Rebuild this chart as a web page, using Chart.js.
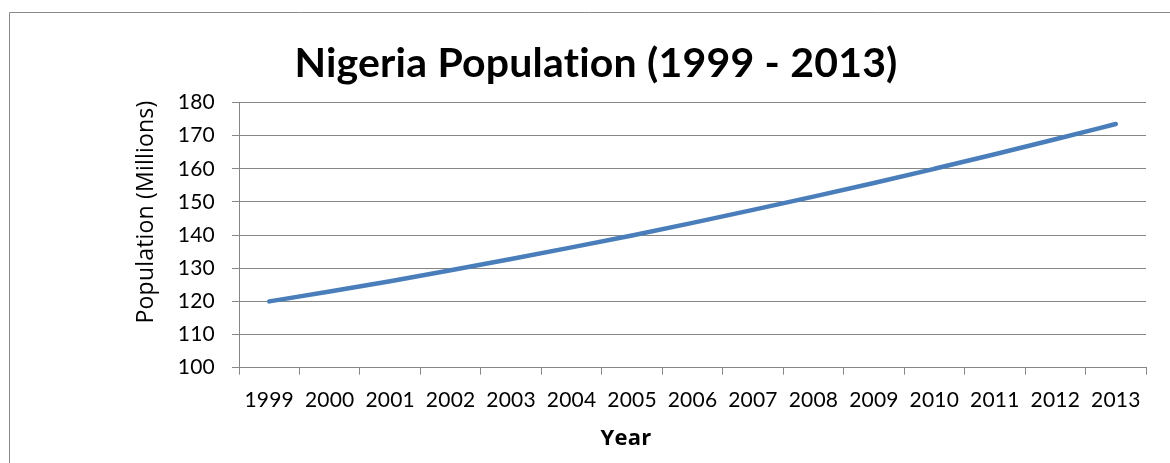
<!DOCTYPE html>
<html>
<head>
<meta charset="utf-8">
<script src="https://cdn.jsdelivr.net/npm/chart.js@4"></script>
<style>
  html, body { margin: 0; padding: 0; background: #ffffff; }
  canvas { display: block; }
</style>
</head>
<body>
<canvas id="c" width="1170" height="463"></canvas>
<script>
// ---- data ----
const years = ['1999','2000','2001','2002','2003','2004','2005','2006','2007','2008','2009','2010','2011','2012','2013'];
const population = [120.0, 123.0, 126.1, 129.4, 132.8, 136.3, 139.9, 143.7, 147.6, 151.6, 155.7, 160.0, 164.4, 168.9, 173.5];
const yMin = 100;
const yMax = 180;
const yStep = 10;
const chartTitle = 'Nigeria Population (1999 - 2013)';
const xAxisTitle = 'Year';
const yAxisTitle = 'Population (Millions)';

const FONT = 'Lato, "Open Sans", sans-serif';
const FONT2 = '"Open Sans", Lato, sans-serif';
const GRID = '#868686';

const frameAndTitles = {
  id: 'frameAndTitles',
  beforeDraw(chart) {
    // small spacing keeps the text free of ligatures
    if ('letterSpacing' in chart.ctx) chart.ctx.letterSpacing = '0.2px';
  },
  afterDraw(chart) {
    const ctx = chart.ctx;
    ctx.save();
    // outer chart frame (top and left edges visible)
    ctx.strokeStyle = '#8a8a8a';
    ctx.lineWidth = 1;
    ctx.beginPath();
    ctx.moveTo(9.5, 463);
    ctx.lineTo(9.5, 12.5);
    ctx.lineTo(1170, 12.5);
    ctx.stroke();
    // axis titles
    ctx.fillStyle = '#000000';
    ctx.textAlign = 'center';
    ctx.textBaseline = 'middle';
    ctx.font = 'bold 22px ' + FONT2;
    ctx.fillText(xAxisTitle, 626, 439);
    ctx.translate(146, 212);
    ctx.rotate(-Math.PI / 2);
    ctx.font = '23px ' + FONT2;
    ctx.fillText(yAxisTitle, 0, 0);
    ctx.restore();
  }
};

new Chart(document.getElementById('c'), {
  type: 'line',
  data: {
    labels: years,
    datasets: [{
      data: population,
      borderColor: '#4A7EBB',
      borderWidth: 4.5,
      borderCapStyle: 'round',
      pointRadius: 0,
      fill: false,
      cubicInterpolationMode: 'monotone'
    }]
  },
  options: {
    responsive: false,
    animation: false,
    layout: { padding: { left: 46, right: 24, top: 12, bottom: 0 } },
    plugins: {
      legend: { display: false },
      tooltip: { enabled: false },
      title: {
        display: true,
        text: chartTitle,
        color: '#000000',
        font: { family: FONT, size: 41, weight: 'bold', lineHeight: 1.2 },
        padding: { top: 26.9, bottom: 14.4 }
      }
    },
    scales: {
      x: {
        offset: true,
        grid: { display: true, drawOnChartArea: false, drawTicks: true, tickLength: 7, offset: true, color: GRID },
        border: { display: true, color: GRID, width: 1 },
        ticks: { color: '#000000', font: { family: FONT, size: 21 }, padding: 13, maxRotation: 0, autoSkip: false },
        afterFit(scale) { scale.height = 463 - 367.7; }
      },
      y: {
        min: yMin,
        max: yMax,
        grid: { color: GRID, drawTicks: true, tickLength: 7 },
        border: { display: true, color: GRID, width: 1 },
        ticks: { stepSize: yStep, color: '#000000', font: { family: FONT, size: 21 }, padding: 17 },
        afterFit(scale) { scale.width = 239 - 46; }
      }
    }
  },
  plugins: [frameAndTitles]
});
</script>
</body>
</html>
